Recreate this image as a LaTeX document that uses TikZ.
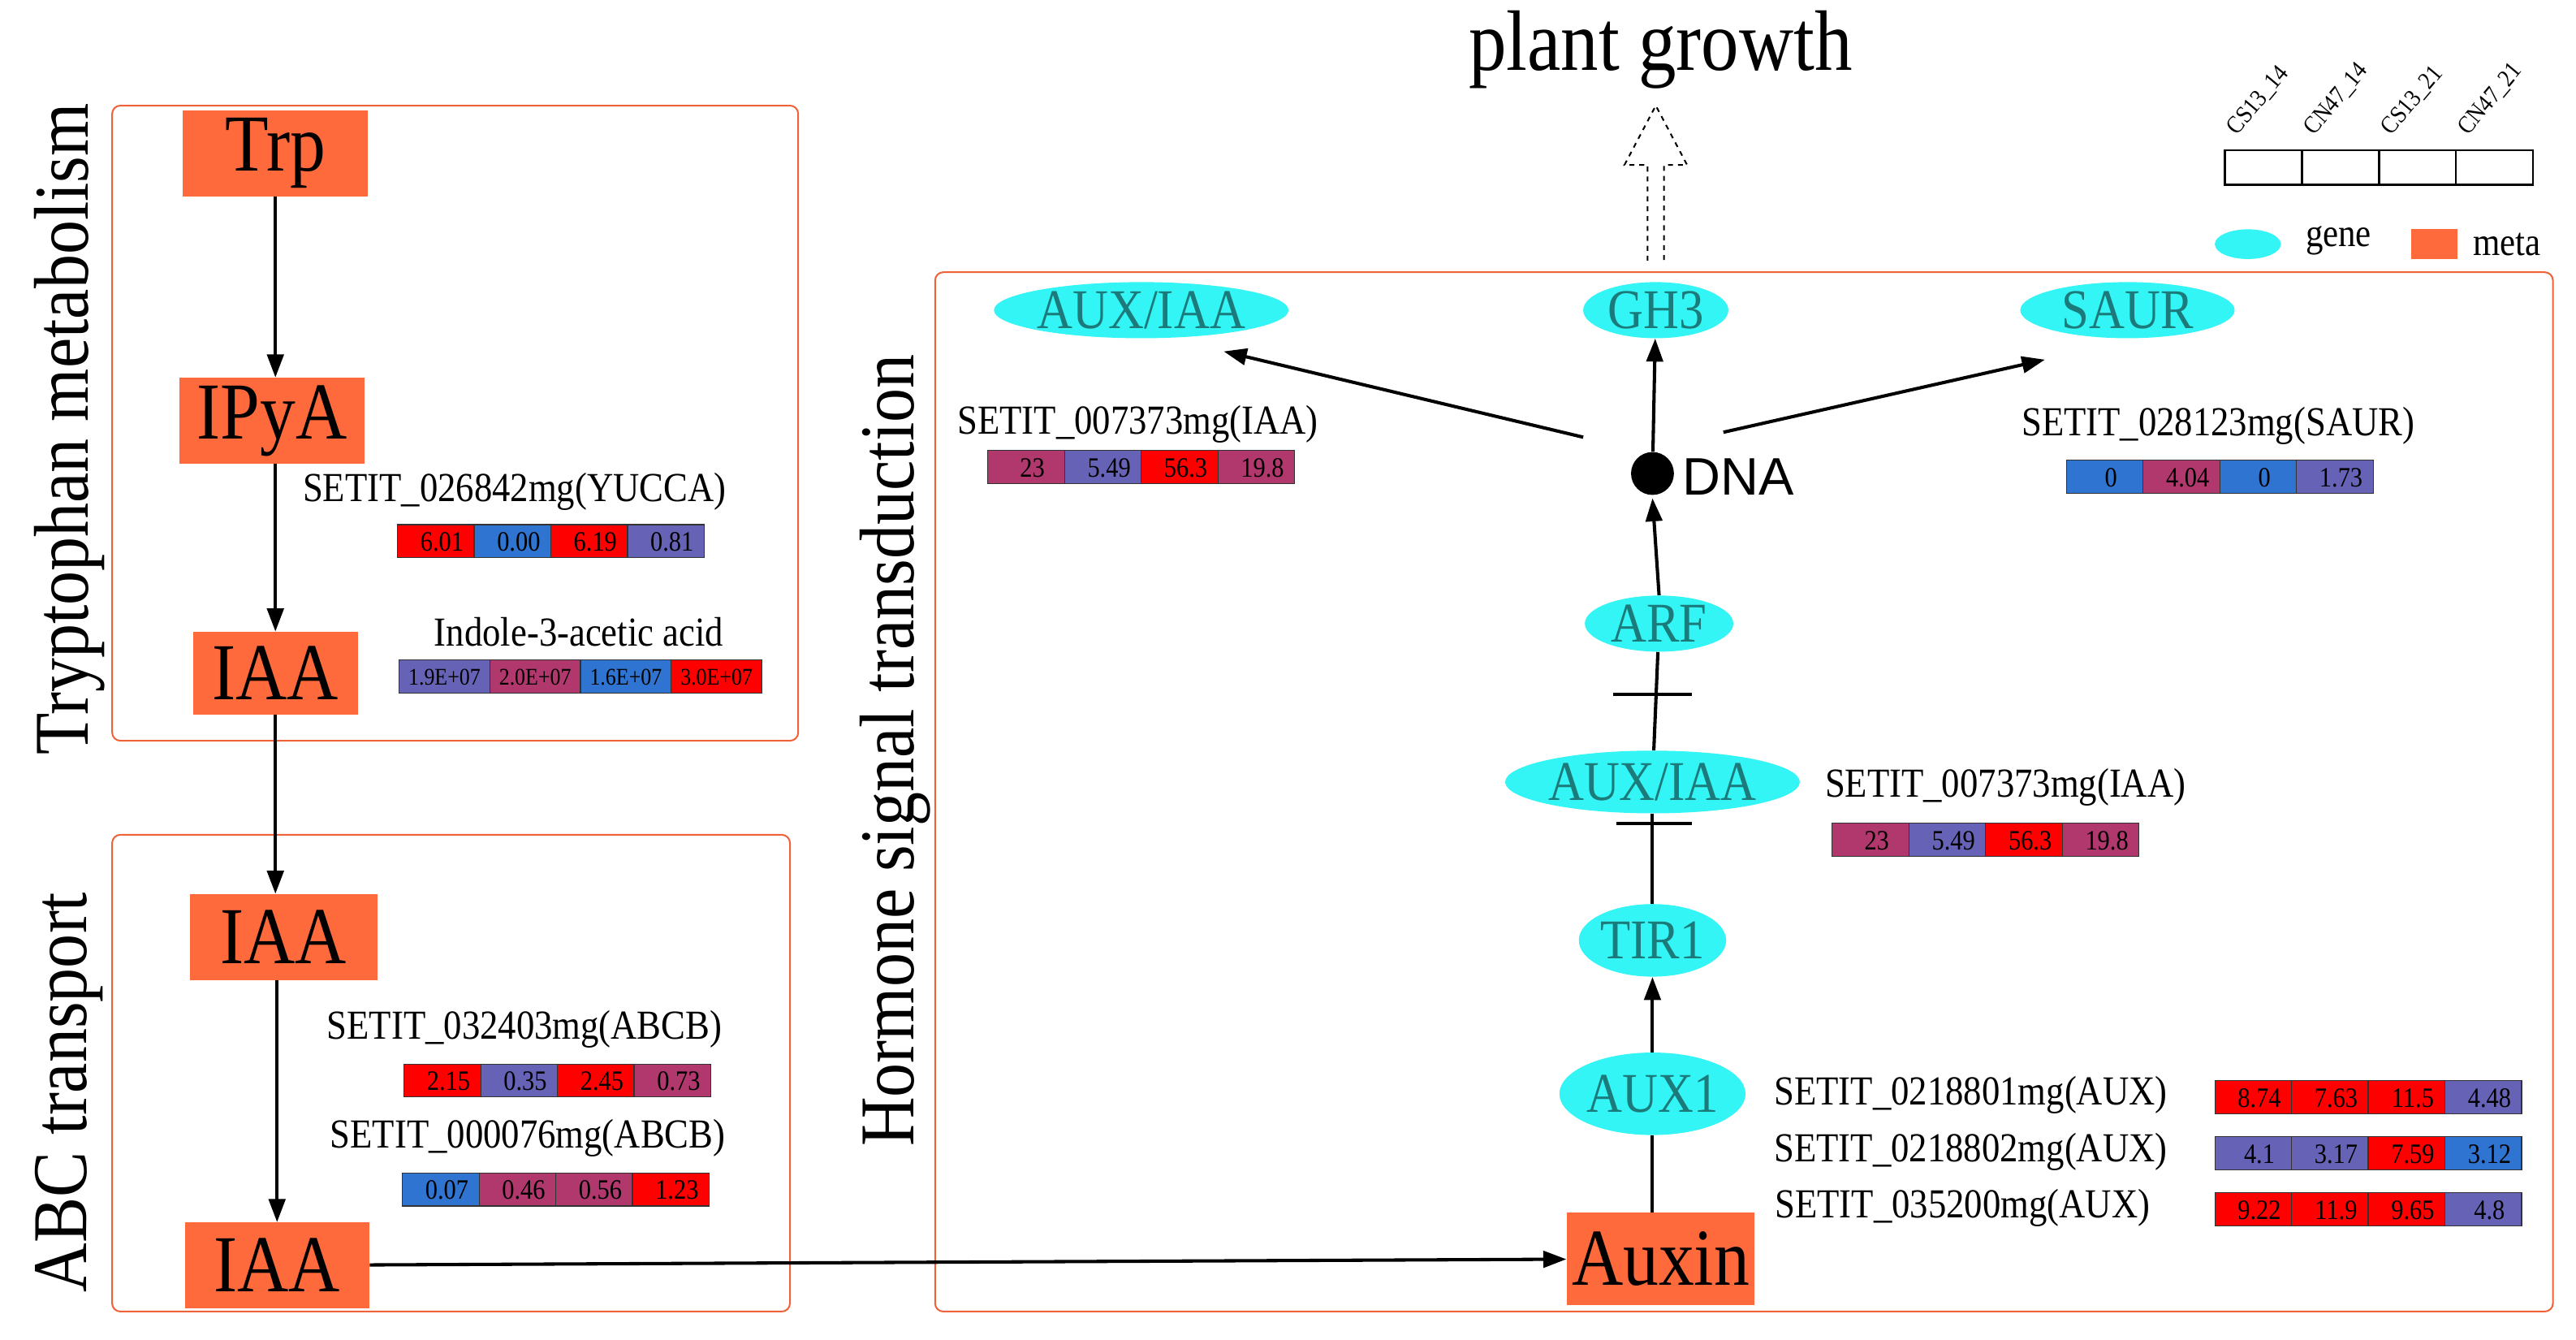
\documentclass[tikz,border=0pt]{standalone}
\usepackage{fontspec}
\setmainfont{Liberation Serif}[FakeStretch=0.88]
\newfontfamily\sansf{Liberation Sans}
\usetikzlibrary{arrows.meta,shapes.geometric}
\definecolor{hR}{HTML}{FF0000}
\definecolor{hB}{HTML}{2E74D0}
\definecolor{hP}{HTML}{6663B6}
\definecolor{hM}{HTML}{B0386C}
\definecolor{meta}{HTML}{FF6A3D}
\definecolor{gene}{HTML}{33F5F5}
\definecolor{gtxt}{HTML}{1C7A7A}
\definecolor{frame}{HTML}{F0623A}
\newcommand{\heatrow}[3]{%
  \foreach \c/\v [count=\i from 0] in {#3}{
    \draw[fill=\c, draw=black!80, line width=0.6pt] ({#1+\i*46.5},#2) rectangle ({#1+(\i+1)*46.5},{#2+20});
    \node[font=\fontsize{17}{17}\selectfont, inner sep=0pt] at ({#1+\i*46.5+27},{#2+10.5}) {\v};
  }}
\begin{document}
\begin{tikzpicture}[x=1pt,y=-1pt,
  metab/.style={rectangle, fill=meta, minimum width=#1, minimum height=52pt, inner sep=0pt, font=\fontsize{49}{49}\selectfont},
  gen/.style={ellipse, fill=gene, inner sep=0pt, text=gtxt, font=\fontsize{34}{34}\selectfont},
  box/.style={draw=frame, line width=1pt, rounded corners=5pt},
  arr/.style={-{Triangle[length=14pt,width=10pt]}, line width=2pt},
  tee/.style={line width=2pt},
  lbl/.style={font=\fontsize{25}{25}\selectfont, inner sep=0pt},
  title/.style={font=\fontsize{47}{47}\selectfont, rotate=90, inner sep=0pt}]
\useasboundingbox (0,0) rectangle (1562,812);
\node[title] (t1) at (42,260) {Tryptophan metabolism};
\node[title] (t2) at (42,662) {ABC transport};
\node[title] (t3) at (543,455) {Hormone signal transduction};
\draw[box] (68,64) rectangle (484,449);
\draw[box] (68,506) rectangle (479,795);
\draw[box] (567,165) rectangle (1548,795);
% metabolites
\node[metab=112pt] (trp) at (167,93) {Trp};
\node[metab=112pt] (ipya) at (165,255) {IPyA};
\node[metab=100pt, minimum height=50pt] (iaa1) at (167,408) {IAA};
\node[metab=114pt] (iaa2) at (172,568) {IAA};
\node[metab=112pt] (iaa3) at (168,767) {IAA};
\node[metab=114pt, minimum height=56pt] (auxin) at (1007,763) {Auxin};
\draw[arr] (trp) -- (trp|-ipya.north);
\draw[arr] (ipya.south-|iaa1) -- (iaa1);
\draw[arr] (iaa1.south) -- (iaa1.south|-iaa2.north);
\draw[arr] (iaa2.south-|iaa3) -- (iaa3);
\draw[arr] (iaa3) -- (auxin);
% left heatmaps
\node[lbl] (l1) at (312,298) {SETIT\_026842mg(YUCCA)};
\heatrow{241}{318}{hR/6.01,hB/0.00,hR/6.19,hP/0.81}
\node[lbl] (l2) at (351,383) {Indole-3-acetic acid};
\foreach \c/\v [count=\i from 0] in {hP/1.9E+07,hM/2.0E+07,hB/1.6E+07,hR/3.0E+07}{
  \draw[fill=\c, draw=black!80, line width=0.6pt] ({242+\i*55},400) rectangle ({242+(\i+1)*55},420);
  \node[font=\fontsize{14.5}{14.5}\selectfont, inner sep=0pt] at ({242+\i*55+27.5},410.5) {\v};}
\node[lbl] (l3) at (318,624) {SETIT\_032403mg(ABCB)};
\heatrow{245}{645}{hR/2.15,hP/0.35,hR/2.45,hM/0.73}
\node[lbl] (l4) at (320,690) {SETIT\_000076mg(ABCB)};
\heatrow{244}{711}{hB/0.07,hM/0.46,hM/0.56,hR/1.23}
% genes
\node[gen, minimum width=168pt, minimum height=34pt] (aux1a) at (692,188) {AUX/IAA};
\node[gen, minimum width=88pt, minimum height=34pt] (gh3) at (1004,188) {GH3};
\node[gen, minimum width=130pt, minimum height=34pt] (saur) at (1290,188) {SAUR};
\node[gen, minimum width=90pt, minimum height=34pt] (arf) at (1006,378) {ARF};
\node[gen, minimum width=160pt, minimum height=38pt] (auxiaa) at (1002,474) {AUX/IAA};
\node[gen, minimum width=86pt, minimum height=44pt] (tir1) at (1002,570) {TIR1};
\node[gen, minimum width=104pt, minimum height=50pt] (aux1) at (1002,663) {AUX1};
\node[circle, fill=black, minimum size=26pt, inner sep=0pt] (dna) at (1002,287) {};
\node[font=\sansf\fontsize{32}{32}\selectfont, anchor=west, inner sep=0pt] (dnal) at (1020,289) {DNA};
\draw[line width=2pt] (auxin.north-|aux1) -- (aux1);
\draw[arr] (aux1) -- (tir1);
\draw[tee] (tir1) -- (auxiaa);
\draw[tee] (980,499) -- (1026,499);
\draw[tee] (auxiaa) -- (arf);
\draw[tee] (978,421) -- (1026,421);
\draw[arr] (arf.north) -- (1002,302);
\draw[arr] (dna) -- (gh3);
\draw[arr] (960,265) -- (742,213);
\draw[arr] (1045,262) -- (1240,218);
% plant growth
\draw[dashed, line width=1pt, fill=white] (999,158) -- (999,100) -- (985,100) -- (1004,64) -- (1023,100) -- (1009,100) -- (1009,158);
\node[font=\fontsize{52}{52}\selectfont, inner sep=0pt] (pg) at (1007,30) {plant growth};
% right heatmaps
\node[lbl] (r1) at (690,257) {SETIT\_007373mg(IAA)};
\heatrow{599}{273}{hM/23,hP/5.49,hR/56.3,hM/19.8}
\node[lbl] (r2) at (1345,258) {SETIT\_028123mg(SAUR)};
\heatrow{1253}{279}{hB/0,hM/4.04,hB/0,hP/1.73}
\node[lbl] (r3) at (1216,477) {SETIT\_007373mg(IAA)};
\heatrow{1111}{499}{hM/23,hP/5.49,hR/56.3,hM/19.8}
\node[lbl] (r4) at (1195,664) {SETIT\_0218801mg(AUX)};
\heatrow{1343}{655}{hR/8.74,hR/7.63,hR/11.5,hP/4.48}
\node[lbl] (r5) at (1195,698) {SETIT\_0218802mg(AUX)};
\heatrow{1343}{689}{hP/4.1,hP/3.17,hR/7.59,hB/3.12}
\node[lbl] (r6) at (1190,732) {SETIT\_035200mg(AUX)};
\heatrow{1343}{723}{hR/9.22,hR/11.9,hR/9.65,hP/4.8}
% legend
\foreach \n [count=\i from 0] in {CS13\_14,CN47\_14,CS13\_21,CN47\_21}{
  \draw[line width=1.2pt] ({1349+\i*46.75},91) rectangle ({1349+(\i+1)*46.75},112);
  \node[font=\fontsize{15}{15}\selectfont, rotate=50, anchor=south west, inner sep=0pt] at ({1358+\i*46.75},84) {\n};}
\node[ellipse, fill=gene, minimum width=40pt, minimum height=18pt, inner sep=0pt] (lg) at (1363,148) {};
\node[font=\fontsize{24}{24}\selectfont, inner sep=0pt] (lgt) at (1418,146) {gene};
\node[rectangle, fill=meta, minimum width=28pt, minimum height=18pt, inner sep=0pt] (lm) at (1476,148) {};
\node[font=\fontsize{24}{24}\selectfont, inner sep=0pt] (lmt) at (1520,148) {meta};
\end{tikzpicture}
\end{document}
